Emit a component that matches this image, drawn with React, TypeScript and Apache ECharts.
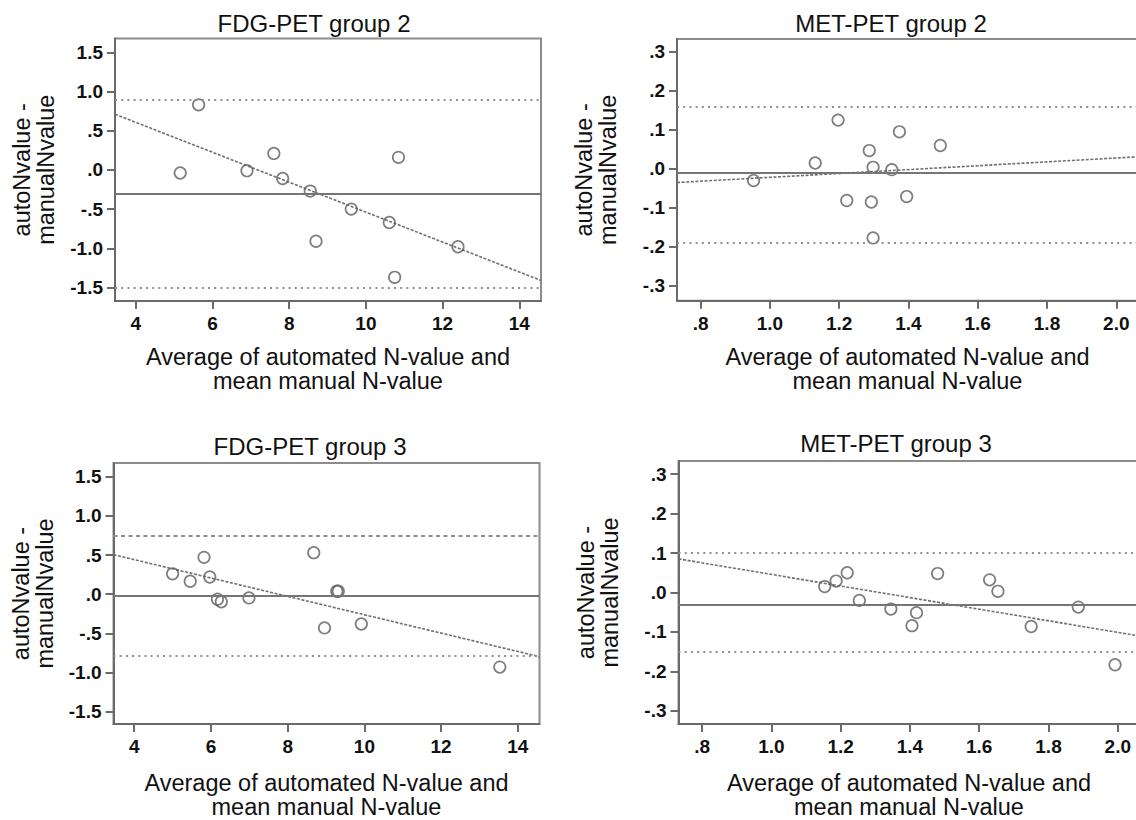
import React, { useEffect, useRef } from "react";
import * as echarts from "echarts";

// ---- tick values and labels ----
const fdgTicksX = [4, 6, 8, 10, 12, 14];
const fdgTickLabelsX = ["4", "6", "8", "10", "12", "14"];
const fdgTicksY = [-1.5, -1.0, -0.5, 0, 0.5, 1.0, 1.5];
const fdgTickLabelsY = ["-1.5", "-1.0", "-.5", ".0", ".5", "1.0", "1.5"];
const metTicksX = [0.8, 1.0, 1.2, 1.4, 1.6, 1.8, 2.0];
const metTickLabelsX = [".8", "1.0", "1.2", "1.4", "1.6", "1.8", "2.0"];
const metTicksY = [-0.3, -0.2, -0.1, 0, 0.1, 0.2, 0.3];
const metTickLabelsY = ["-.3", "-.2", "-.1", ".0", ".1", ".2", ".3"];

// ---- panel titles ----
const panelTitles = ["FDG-PET group 2", "MET-PET group 2", "FDG-PET group 3", "MET-PET group 3"];
const xAxisTitle = "Average of automated N-value and\nmean manual N-value";
const yAxisTitle = "autoNvalue -\nmanualNvalue";

// ---- data: average (x) and difference (y) ----
const fdg2Avg = [5.16, 5.64, 6.90, 7.60, 7.83, 8.55, 8.70, 9.62, 10.61, 10.75, 10.85, 12.40];
const fdg2Diff = [-0.04, 0.83, -0.01, 0.21, -0.11, -0.27, -0.91, -0.50, -0.67, -1.37, 0.16, -0.98];

const met2Avg = [0.953, 1.131, 1.197, 1.222, 1.287, 1.293, 1.298, 1.298, 1.352, 1.374, 1.395, 1.492];
const met2Diff = [-0.030, 0.015, 0.125, -0.081, 0.047, -0.085, 0.004, -0.177, -0.002, 0.095, -0.071, 0.060];

const fdg3Avg = [5.00, 5.46, 5.82, 5.97, 6.17, 6.27, 6.99, 8.68, 8.96, 9.28, 9.32, 9.92, 13.53];
const fdg3Diff = [0.26, 0.165, 0.47, 0.22, -0.064, -0.097, -0.047, 0.53, -0.43, 0.038, 0.038, -0.38, -0.93];

const met3Avg = [1.154, 1.187, 1.219, 1.254, 1.345, 1.406, 1.419, 1.480, 1.630, 1.654, 1.750, 1.886, 1.992];
const met3Diff = [0.015, 0.029, 0.050, -0.020, -0.042, -0.084, -0.051, 0.048, 0.032, 0.003, -0.086, -0.037, -0.183];

// ---- Bland-Altman lines ----
const meanDiff = [-0.30, -0.009, -0.018, -0.025];
const upperLoA = [0.90, 0.16, 0.754, 0.103];
const lowerLoA = [-1.50, -0.19, -0.788, -0.155];
const regIntercept = [1.3705, -0.0713, 0.910, 0.1926];
const regSlope = [-0.1909, 0.0496, -0.1172, -0.1468];

const FONT = "'Liberation Sans', Arial, Helvetica, sans-serif";

type Panel = {
  avg: number[];
  diff: number[];
  ticksX: number[];
  labelsX: string[];
  ticksY: number[];
  labelsY: string[];
  xMin: number;
  xMax: number;
  yMin: number;
  yMax: number;
  grid: { left: number; top: number; width: number; height: number };
  titleX: number;
  titleY: number;
  nameGapX: number;
  namePadX: number[];
  upperDash: number[];
};

const panels: Panel[] = [
  {
    avg: fdg2Avg, diff: fdg2Diff,
    ticksX: fdgTicksX, labelsX: fdgTickLabelsX, ticksY: fdgTicksY, labelsY: fdgTickLabelsY,
    xMin: 3.46, xMax: 14.565, yMin: -1.672, yMax: 1.676,
    grid: { left: 115, top: 38.5, width: 426, height: 262.5 },
    titleX: 314, titleY: 23.5, nameGapX: 44, namePadX: [0, 0, 0, 0], upperDash: [2, 4.2],
  },
  {
    avg: met2Avg, diff: met2Diff,
    ticksX: metTicksX, labelsX: metTickLabelsX, ticksY: metTicksY, labelsY: metTickLabelsY,
    xMin: 0.732, xMax: 2.1031, yMin: -0.338, yMax: 0.333,
    grid: { left: 677, top: 39, width: 475, height: 261.7 },
    titleX: 891, titleY: 23.5, nameGapX: 44, namePadX: [0, 14, 0, 0], upperDash: [2, 4.2],
  },
  {
    avg: fdg3Avg, diff: fdg3Diff,
    ticksX: fdgTicksX, labelsX: fdgTickLabelsX, ticksY: fdgTicksY, labelsY: fdgTickLabelsY,
    xMin: 3.46, xMax: 14.565, yMin: -1.656, yMax: 1.674,
    grid: { left: 113.5, top: 463, width: 426, height: 262 },
    titleX: 310, titleY: 446.5, nameGapX: 47, namePadX: [0, 0, 0, 0], upperDash: [4, 3.5],
  },
  {
    avg: met3Avg, diff: met3Diff,
    ticksX: metTicksX, labelsX: metTickLabelsX, ticksY: metTicksY, labelsY: metTickLabelsY,
    xMin: 0.732, xMax: 2.1031, yMin: -0.333, yMax: 0.333,
    grid: { left: 678.5, top: 461, width: 475, height: 264 },
    titleX: 896, titleY: 443.5, nameGapX: 47, namePadX: [0, 14, 0, 0], upperDash: [2, 4.2],
  },
];

const lookup = (ticks: number[], labels: string[]) => (v: number) => {
  const i = ticks.findIndex((t) => Math.abs(t - v) < 1e-6);
  return i >= 0 ? labels[i] : "";
};

const AXIS_COLOR = "#6a6a6a";

function buildOption() {
  const grids: any[] = [];
  const xAxes: any[] = [];
  const yAxes: any[] = [];
  const series: any[] = [];
  const graphics: any[] = [];

  panels.forEach((p, i) => {
    grids.push({
      ...p.grid,
      show: true,
      borderColor: "#8c8c8c",
      borderWidth: 2,
      backgroundColor: "transparent",
      containLabel: false,
    });
    xAxes.push({
      type: "value",
      gridIndex: i,
      min: p.xMin,
      max: p.xMax,
      name: xAxisTitle,
      nameLocation: "middle",
      nameGap: p.nameGapX,
      nameTextStyle: { fontFamily: FONT, fontSize: 23.5, lineHeight: 24, color: "#111", padding: p.namePadX },
      axisLine: { show: true, onZero: false, lineStyle: { color: AXIS_COLOR, width: 2 } },
      axisTick: { show: true, inside: false, length: 8, customValues: p.ticksX, lineStyle: { color: AXIS_COLOR, width: 2 } },
      axisLabel: {
        customValues: p.ticksX,
        formatter: lookup(p.ticksX, p.labelsX),
        margin: 13,
        fontFamily: FONT,
        fontSize: 19,
        fontWeight: "bold",
        color: "#111",
      },
      splitLine: { show: false },
    });
    yAxes.push({
      type: "value",
      gridIndex: i,
      min: p.yMin,
      max: p.yMax,
      name: yAxisTitle,
      nameLocation: "middle",
      nameRotate: 90,
      nameGap: 57,
      nameTextStyle: { fontFamily: FONT, fontSize: 23.5, lineHeight: 24, color: "#111" },
      axisLine: { show: true, onZero: false, lineStyle: { color: AXIS_COLOR, width: 2 } },
      axisTick: { show: true, inside: false, length: 8, customValues: p.ticksY, lineStyle: { color: AXIS_COLOR, width: 2 } },
      axisLabel: {
        customValues: p.ticksY,
        formatter: lookup(p.ticksY, p.labelsY),
        margin: 12,
        fontFamily: FONT,
        fontSize: 19,
        fontWeight: "bold",
        color: "#111",
      },
      splitLine: { show: false },
    });

    series.push({
      type: "line",
      xAxisIndex: i,
      yAxisIndex: i,
      data: [p.xMin, p.xMax].map((x) => [x, regIntercept[i] + regSlope[i] * x]),
      showSymbol: false,
      symbol: "none",
      silent: true,
      lineStyle: { color: "#6f6f6f", width: 1.6, type: [3, 1.6] },
      z: 2,
    });

    series.push({
      type: "scatter",
      xAxisIndex: i,
      yAxisIndex: i,
      data: p.avg.map((x, k) => [x, p.diff[k]]),
      symbol: "circle",
      symbolSize: 11.5,
      itemStyle: { color: "rgba(0,0,0,0)", borderColor: "#5e5e5e", borderWidth: 1.7 },
      silent: true,
      z: 3,
      markLine: {
        silent: true,
        symbol: ["none", "none"],
        label: { show: false },
        animation: false,
        data: [
          { yAxis: meanDiff[i], lineStyle: { type: "solid", color: "#757575", width: 2 } },
          { yAxis: upperLoA[i], lineStyle: { type: p.upperDash, color: "#8f8f8f", width: 2 } },
          { yAxis: lowerLoA[i], lineStyle: { type: [2, 4.2], color: "#8f8f8f", width: 2 } },
        ],
      },
    });

    graphics.push({
      type: "text",
      x: p.titleX,
      y: p.titleY,
      silent: true,
      style: {
        text: panelTitles[i],
        align: "center",
        verticalAlign: "middle",
        fontFamily: FONT,
        fontSize: 24,
        fill: "#111",
      },
    });
  });

  return {
    animation: false,
    backgroundColor: "#ffffff",
    grid: grids,
    xAxis: xAxes,
    yAxis: yAxes,
    series,
    graphic: graphics,
  };
}

export default function App() {
  const ref = useRef<HTMLDivElement>(null);
  useEffect(() => {
    if (!ref.current) return;
    const chart = echarts.init(ref.current, undefined, { renderer: "svg" });
    chart.setOption(buildOption() as any);
    return () => chart.dispose();
  }, []);
  return (
    <div
      style={{ position: "fixed", left: 0, top: 0, width: 1136, height: 820, overflow: "hidden", background: "#fff" }}
    >
      <div ref={ref} style={{ width: 1170, height: 820 }} />
    </div>
  );
}
